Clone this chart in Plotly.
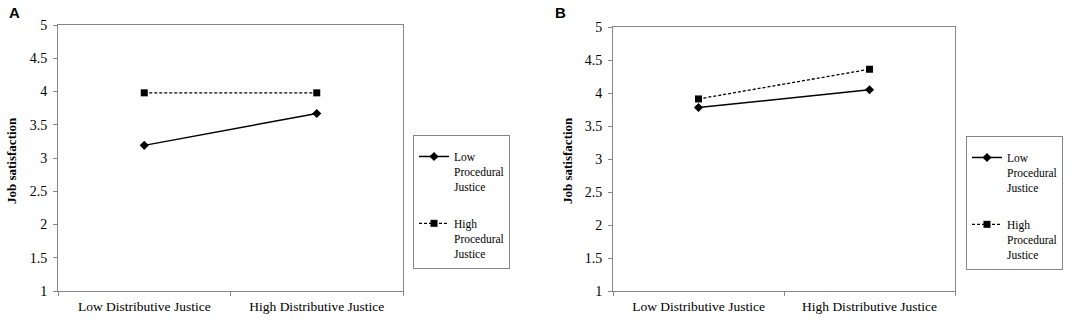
import plotly.graph_objects as go

categories = ["Low Distributive Justice", "High Distributive Justice"]
series_names = ["Low<br>Procedural<br>Justice", "High<br>Procedural<br>Justice"]
a_low = [3.19, 3.67]
a_high = [3.98, 3.98]
b_low = [3.78, 4.05]
b_high = [3.91, 4.36]
y_ticks = [1, 1.5, 2, 2.5, 3, 3.5, 4, 4.5, 5]
y_ticktext = ["1", "1.5", "2", "2.5", "3", "3.5", "4", "4.5", "5"]
y_title = "Job satisfaction"
panel_labels = ["A", "B"]

SERIF = "Liberation Serif, Times New Roman, serif"
SANS = "Liberation Sans, Arial, sans-serif"
GRAY = "#868686"
W, H = 1084, 326

fig = go.Figure()

def add_panel(low, high, xa, ya, legend):
    fig.add_trace(go.Scatter(
        x=categories, y=low, name=series_names[0], xaxis=xa, yaxis=ya,
        mode="lines+markers", legend=legend, legendgroup=legend + "low",
        line=dict(color="black", width=1.5),
        marker=dict(symbol="diamond", size=7, color="black")))
    fig.add_trace(go.Scatter(
        x=categories, y=high, name=series_names[1], xaxis=xa, yaxis=ya,
        mode="lines+markers", legend=legend, legendgroup=legend + "high",
        line=dict(color="black", width=1.3, dash="3px,2px"),
        marker=dict(symbol="square", size=7, color="black")))

add_panel(a_low, a_high, "x", "y", "legend")
add_panel(b_low, b_high, "x2", "y2", "legend2")

xcommon = dict(type="category", range=[-0.5, 1.5], tickson="boundaries",
               ticks="outside", ticklen=4, automargin=False, ticklabelstandoff=3,
               tickcolor=GRAY, linecolor=GRAY, linewidth=1, mirror=True,
               showgrid=False, zeroline=False,
               tickfont=dict(family=SERIF, size=13.5, color="black"))
ycommon = dict(range=[1, 5], tickvals=y_ticks, ticktext=y_ticktext,
               ticks="outside", ticklen=4, tickcolor=GRAY, linecolor=GRAY,
               linewidth=1, mirror=True, showgrid=False, zeroline=False,
               automargin=False, ticklabelstandoff=3,
               tickfont=dict(family=SERIF, size=14, color="black"))

legcommon = dict(xanchor="left", yanchor="top", bordercolor=GRAY, borderwidth=1,
                 bgcolor="white", font=dict(family=SERIF, size=11.5, color="black"),
                 itemwidth=30, valign="top", tracegroupgap=19, traceorder="grouped",
                 title=dict(text=" ", font=dict(size=5)))

annotations = []
for lbl, lx, tx, ty in [(panel_labels[0], 14, 11, 161), (panel_labels[1], 560, 567, 161)]:
    annotations.append(dict(text="<b>%s</b>" % lbl, x=lx / W, y=1 - 13 / H,
                            xref="paper", yref="paper", showarrow=False,
                            xanchor="center", yanchor="middle",
                            font=dict(family=SANS, size=15, color="black")))
    annotations.append(dict(text="<b>%s</b>" % y_title, x=tx / W, y=1 - ty / H,
                            xref="paper", yref="paper", showarrow=False, textangle=-90,
                            xanchor="center", yanchor="middle",
                            font=dict(family=SERIF, size=13, color="black")))

fig.update_layout(
    width=W, height=H,
    margin=dict(l=0, r=0, t=0, b=0, autoexpand=False),
    paper_bgcolor="white", plot_bgcolor="white",
    xaxis=dict(domain=[58 / W, 403 / W], anchor="y", **xcommon),
    yaxis=dict(domain=[1 - 291 / H, 1 - 25 / H], anchor="x", **ycommon),
    xaxis2=dict(domain=[613 / W, 955 / W], anchor="y2", **xcommon),
    yaxis2=dict(domain=[1 - 291 / H, 1 - 27 / H], anchor="x2", **ycommon),
    legend=dict(x=413 / W, y=1 - 135 / H, **legcommon),
    legend2=dict(x=966 / W, y=1 - 136 / H, **legcommon),
    annotations=annotations,
)

fig.write_html("out.html", config={"displayModeBar": False},
               post_script="document.body.style.margin='0';")
